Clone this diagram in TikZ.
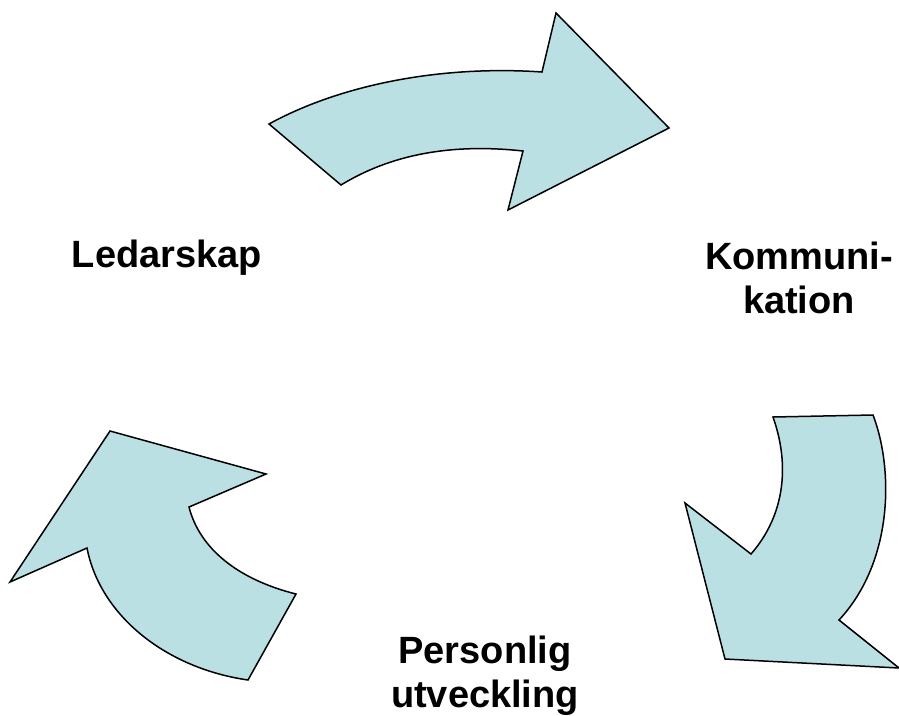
\documentclass[tikz,border=0pt]{standalone}
\usepackage{fontspec}
\setmainfont{Liberation Sans}
\begin{document}
\begin{tikzpicture}[x=1pt,y=-1pt,
  arrowshape/.style={fill=arrowfill,draw=black,line width=1.5pt,line join=miter},
  label/.style={font=\fontsize{38}{44}\selectfont\bfseries,align=center,inner sep=0pt}]
\definecolor{arrowfill}{RGB}{187,224,227}
\useasboundingbox (0,0) rectangle (899,715);
% top arrow
\path[arrowshape] (269,124) .. controls (340,85) and (440,65) .. (542,72)
  -- (556,13) -- (669,128) -- (508,210) -- (523,151)
  .. controls (450,143) and (390,155) .. (341,185) -- cycle;
% right arrow
\path[arrowshape] (773,417) -- (873,415)
  .. controls (894,470) and (893,562) .. (839,620)
  -- (899,668) -- (725,659) -- (685,503) -- (751,554)
  .. controls (785,515) and (790,465) .. (773,417) -- cycle;
% left arrow
\path[arrowshape] (110,431) -- (266,474) -- (189,507)
  .. controls (200,550) and (240,580) .. (296,594)
  -- (248,680)
  .. controls (165,668) and (100,615) .. (87,548)
  -- (10,582) -- cycle;
\node[label] (led) at (167,258) {Ledarskap};
\node[label] (kom) at (799,278) {Kommuni-\\kation};
\node[label] (per) at (485,676) {Personlig\\utveckling};
\end{tikzpicture}
\end{document}
